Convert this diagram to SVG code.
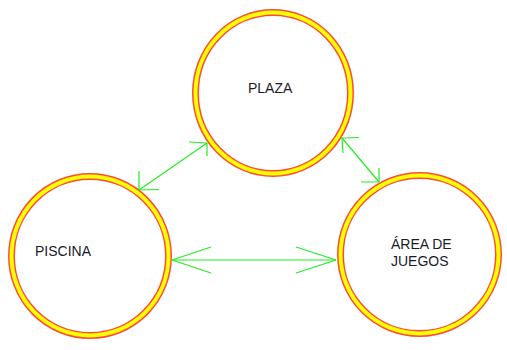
<svg xmlns="http://www.w3.org/2000/svg" width="507" height="350" viewBox="0 0 507 350">
<style>
.ring-o{fill:#fff;stroke:#ff4a3a;stroke-width:7}
.ring-i{fill:none;stroke:#ffff00;stroke-width:4}
.lbl{font-family:"Liberation Sans",Arial,sans-serif;font-size:14px;fill:#1a1a2a}
.edge{stroke:#22ee22;stroke-width:1.2;fill:none}
</style>
<rect width="507" height="350" fill="#fff"/>
<g id="plaza">
<ellipse class="ring-o" cx="273" cy="93" rx="77.5" ry="80.5"/>
<ellipse class="ring-i" cx="273" cy="93" rx="77.5" ry="80.5"/>
<text class="lbl" x="248" y="93">PLAZA</text>
</g>
<g id="piscina">
<ellipse class="ring-o" cx="90" cy="256" rx="78.5" ry="79.5"/>
<ellipse class="ring-i" cx="90" cy="256" rx="78.5" ry="79.5"/>
<text class="lbl" x="35" y="256">PISCINA</text>
</g>
<g id="area-de-juegos">
<ellipse class="ring-o" cx="419.5" cy="254.5" rx="79" ry="79"/>
<ellipse class="ring-i" cx="419.5" cy="254.5" rx="79" ry="79"/>
<text class="lbl" x="391" y="249">ÁREA DE</text>
<text class="lbl" x="391" y="266">JUEGOS</text>
</g>
<g id="connectors">
<path class="edge" d="M139,190 L207,143"/>
<path class="edge" d="M207,143 L189,142 M207,143 L207,156"/>
<path class="edge" d="M139,190 L159,189.5 M139,190 L139,171"/>
<path class="edge" d="M172,260 L336,260"/>
<path class="edge" d="M172,260 L211,247 M172,260 L211,273"/>
<path class="edge" d="M336,260 L296,247 M336,260 L296,273"/>
<path class="edge" d="M342,138 L379,182"/>
<path class="edge" d="M342,138 L359,137.5 M342,138 L343,153"/>
<path class="edge" d="M379,182 L361,182 M379,182 L379,168"/>
</g>
</svg>
